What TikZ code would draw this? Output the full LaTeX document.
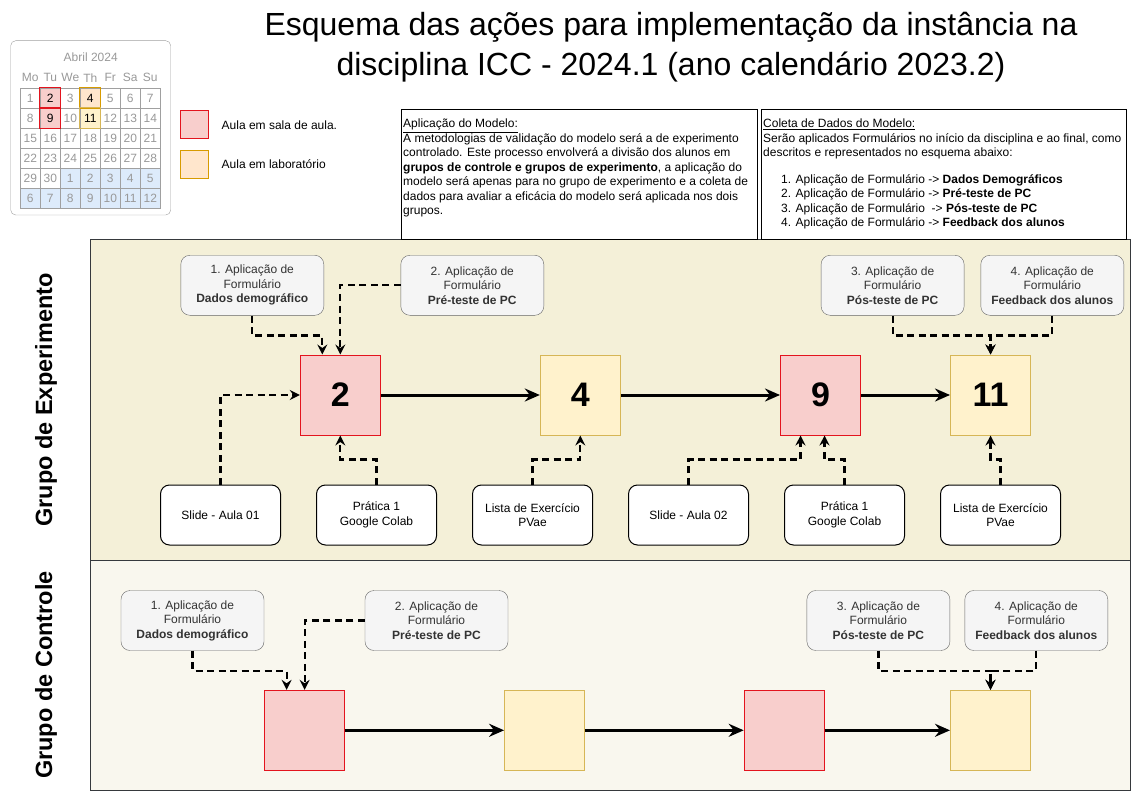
\documentclass[tikz,border=0pt]{standalone}
\usepackage{fontspec}
\setmainfont{Liberation Sans}
\usetikzlibrary{arrows.meta}
\usetikzlibrary{positioning}
\definecolor{salafill}{HTML}{F8CECC}
\definecolor{salaline}{HTML}{E3141E}
\definecolor{labfill}{HTML}{FFE6CC}
\definecolor{labline}{HTML}{D79B00}
\definecolor{amafill}{HTML}{FFF2CC}
\definecolor{amaline}{HTML}{D6B656}
\definecolor{formfill}{HTML}{F5F5F5}
\definecolor{formline}{HTML}{666666}
\definecolor{formtext}{HTML}{333333}
\definecolor{expfill}{HTML}{F4F0D8}
\definecolor{ctrfill}{HTML}{F9F7EE}
\definecolor{grpline}{HTML}{36393D}
\definecolor{calgray}{HTML}{999999}
\definecolor{calline}{HTML}{A0A0A0}
\definecolor{calblue}{HTML}{DDEBFB}

\begin{document}
\begin{tikzpicture}[x=1pt, y=-1pt,
	dia/.style={draw=calline, line width=0.8pt, minimum size=20pt, inner sep=0pt, text=calgray, font=\fontsize{12}{12}\selectfont},
	semana/.style={inner sep=0pt, text=calgray, font=\fontsize{12}{12}\selectfont},
	legenda/.style={minimum size=28pt, inner sep=0pt, line width=1pt},
	aula/.style={minimum size=80pt, inner sep=0pt, line width=1pt, font=\bfseries\fontsize{34}{34}\selectfont},
	sala/.style={aula, fill=salafill, draw=salaline},
	lab/.style={aula, fill=amafill, draw=amaline},
	form/.style={draw=formline, fill=formfill, text=formtext, rounded corners=9pt, minimum width=143pt, minimum height=60pt, inner sep=0pt, align=center, font=\fontsize{12}{14.5}\selectfont},
	material/.style={draw=black, fill=white, line width=1pt, rounded corners=9pt, minimum width=120pt, minimum height=60pt, inner sep=0pt, align=center, font=\fontsize{12}{14.5}\selectfont},
	texto/.style={inner sep=0pt, align=left, font=\fontsize{12}{14.5}\selectfont},
	tracejado/.style={line width=2.2pt, dash pattern=on 7pt off 4.5pt, -{Stealth[length=10pt, width=10pt, inset=3.5pt]}},
	seta/.style={line width=3pt, -{Stealth[length=15pt, width=13pt, inset=5pt]}},
	grupo/.style={draw=grpline, line width=1pt},
	rotulo/.style={rotate=90, inner sep=0pt, font=\bfseries\fontsize{23.5}{23.5}\selectfont}]

	\useasboundingbox[fill=white] (0,0) rectangle (1131,791);

	\node[align=center, font=\fontsize{32}{40}\selectfont] (titulo) at (671,47) {Esquema das ações para implementação da instância na\\disciplina ICC - 2024.1 (ano calendário 2023.2)};

	\begin{scope}
		\draw[draw=calline, fill=white, rounded corners=5pt] (10.7,40.7) rectangle (170.7,215);
		\node[semana] (mes) at (90.7,57.7) {Abril 2024};
		\foreach \w [count=\i from 0] in {Mo,Tu,We,Th,Fr,Sa,Su}
			\node[semana] (w\i) at (30.3+20*\i, 77.7) {\w};
		\foreach \r in {0,...,5}
			\foreach \c in {0,...,6}{
				\pgfmathtruncatemacro{\dd}{7*\r+\c+1}
				\pgfmathtruncatemacro{\dn}{\dd>30 ? \dd-30 : \dd}
				\tikzset{cor/.style={fill=white}}
				\ifnum\dd>30 \tikzset{cor/.style={fill=calblue}}\fi
				\ifnum\dd=2 \tikzset{cor/.style={fill=salafill, text=black}}\fi
				\ifnum\dd=9 \tikzset{cor/.style={fill=salafill, text=black}}\fi
				\ifnum\dd=4 \tikzset{cor/.style={fill=labfill, text=black}}\fi
				\ifnum\dd=11 \tikzset{cor/.style={fill=amafill, text=black}}\fi
				\node[dia, cor] (d\dd) at (30.3+20*\c, 98.3+20*\r) {\dn};
			}
		\draw[salaline, line width=0.9pt] (d2.south west) rectangle (d2.north east);
		\draw[salaline, line width=0.9pt] (d9.south west) rectangle (d9.north east);
		\draw[labline, line width=0.9pt] (d4.south west) rectangle (d4.north east);
		\draw[amaline, line width=0.9pt] (d11.south west) rectangle (d11.north east);
	\end{scope}

	\node[legenda, fill=salafill, draw=salaline] (lsala) at (194.5,124.5) {};
	\node[texto, anchor=west] (tsala) at (221.5,125.5) {Aula em sala de aula.};
	\node[legenda, fill=labfill, draw=labline] (llab) at (194.5,164.2) {};
	\node[texto, anchor=west] (tlab) at (221.5,164.2) {Aula em laboratório};

	\draw[grupo, fill=expfill] (90,240) rectangle (1130,560);
	\draw[grupo, fill=ctrfill] (90,560) rectangle (1130,790);

	\draw[line width=1pt, fill=white] (401,110) rectangle (757,240);
	\draw[line width=1pt, fill=white] (761,110) rectangle (1126,240);
	\node[texto, anchor=north west] (aplicacao) at (403,119) {\underline{Aplicação do Modelo:}\\
		A metodologias de validação do modelo será a de experimento\\
		controlado. Este processo envolverá a divisão dos alunos em\\
		\textbf{grupos de controle e grupos de experimento}, a aplicação do\\
		modelo será apenas para no grupo de experimento e a coleta de\\
		dados para avaliar a eficácia do modelo será aplicada nos dois\\
		grupos.};
	\node[texto, anchor=north west] (coleta) at (763,119) {\underline{Coleta de Dados do Modelo:}\\
		Serão aplicados Formulários no início da disciplina e ao final, como\\
		descritos e representados no esquema abaixo:\\[12pt]
		\hspace*{18pt}1. Aplicação de Formulário -> \textbf{Dados Demográficos}\\
		\hspace*{18pt}2. Aplicação de Formulário -> \textbf{Pré-teste de PC}\\
		\hspace*{18pt}3. Aplicação de Formulário \ -> \textbf{Pós-teste de PC}\\
		\hspace*{18pt}4. Aplicação de Formulário -> \textbf{Feedback dos alunos}};

	\node[rotulo] (gexp) at (46,400) {Grupo de Experimento};
	\node[rotulo] (gctr) at (46,675) {Grupo de Controle};

	\begin{scope}
		\node[sala] (e2) at (340.3,395) {2};
		\node[lab] (e4) at (580.3,395) {4};
		\node[sala] (e9) at (820.5,395) {9};
		\node[lab] (e11) at (990.5,395) {11};

		\node[form] (f1) at (252.3,285.3) {1. Aplicação de\\Formulário\\\textbf{Dados demográfico}};
		\node[form] (f2) at (472.3,285.3) {2. Aplicação de\\Formulário\\\textbf{Pré-teste de PC}};
		\node[form] (f3) at (892.6,285.3) {3. Aplicação de\\Formulário\\\textbf{Pós-teste de PC}};
		\node[form] (f4) at (1052.3,285.3) {4. Aplicação de\\Formulário\\\textbf{Feedback dos alunos}};

		\node[material] (s1) at (220.5,515) {Slide - Aula 01};
		\node[material] (p1) at (376.5,515) {Prática 1\\Google Colab};
		\node[material] (l1) at (532.5,515) {Lista de Exercício\\PVae};
		\node[material] (s2) at (688.5,515) {Slide - Aula 02};
		\node[material] (p2) at (844.5,515) {Prática 1\\Google Colab};
		\node[material] (l2) at (1000.5,515) {Lista de Exercício\\PVae};

		\draw[seta] (e2) -- (e4);
		\draw[seta] (e4) -- (e9);
		\draw[seta] (e9) -- (e11);

		\draw[tracejado] (f1.south) -- ++(0,20) -| ([xshift=-18pt]e2.north);
		\draw[tracejado] (f2.west) -| (e2.north);
		\draw[tracejado] (f3.south) -- ++(0,20) -| (e11.north);
		\draw[tracejado] (f4.south) -- ++(0,20) -| (e11.north);
		\draw[tracejado] (s1.north) |- (e2.west);
		\draw[tracejado] (p1.north) -- ++(0,-25) -| (e2.south);
		\draw[tracejado] (l1.north) -- ++(0,-25) -| (e4.south);
		\draw[tracejado] (s2.north) -- ++(0,-25) -| ([xshift=-20pt]e9.south);
		\draw[tracejado] (p2.north) -- ++(0,-25) -| ([xshift=4pt]e9.south);
		\draw[tracejado] (l2.north) -- ++(0,-25) -| (e11.south);
	\end{scope}

	\begin{scope}
		\node[sala] (c1) at (304.6,730.3) {};
		\node[lab] (c2) at (544.6,730.3) {};
		\node[sala] (c3) at (784.2,730.3) {};
		\node[lab] (c4) at (990.5,730.3) {};

		\node[form] (g1) at (192.5,620.5) {1. Aplicação de\\Formulário\\\textbf{Dados demográfico}};
		\node[form] (g2) at (436.5,620.5) {2. Aplicação de\\Formulário\\\textbf{Pré-teste de PC}};
		\node[form] (g3) at (878.4,620.5) {3. Aplicação de\\Formulário\\\textbf{Pós-teste de PC}};
		\node[form] (g4) at (1036.3,620.5) {4. Aplicação de\\Formulário\\\textbf{Feedback dos alunos}};

		\draw[seta] (c1) -- (c2);
		\draw[seta] (c2) -- (c3);
		\draw[seta] (c3) -- (c4);

		\draw[tracejado] (g1.south) -- ++(0,20) -| ([xshift=-18pt]c1.north);
		\draw[tracejado] (g2.west) -| (c1.north);
		\draw[tracejado] (g3.south) -- ++(0,20) -| (c4.north);
		\draw[tracejado] (g4.south) -- ++(0,20) -| (c4.north);
	\end{scope}
\end{tikzpicture}
\end{document}
